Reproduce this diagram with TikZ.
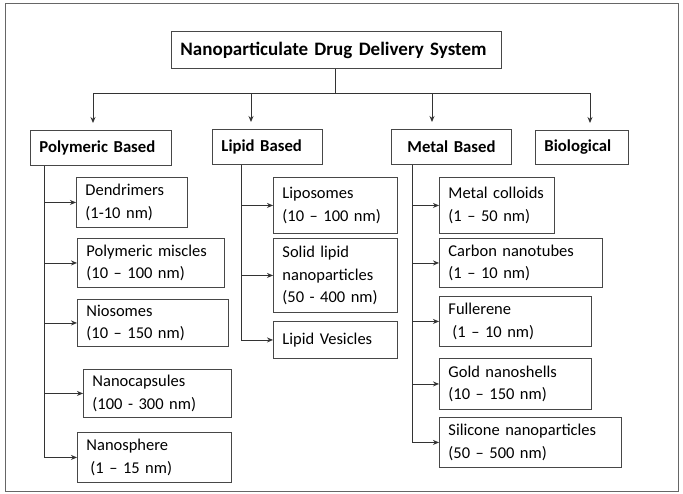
\documentclass[tikz,border=0pt]{standalone}
\usepackage{fontspec}
\setmainfont{Carlito}
\usetikzlibrary{arrows.meta}
\tikzset{
  box/.style={draw=black!72, line width=0.9pt, inner xsep=9pt, inner ysep=2pt, align=left,
    font=\fontsize{16.5}{22.5}\selectfont, text=black},
  head/.style={font=\bfseries\fontsize{16.7}{22}\selectfont},
  link/.style={draw=black!80, line width=0.9pt},
  arr/.style={link, -{Stealth[length=6pt,width=5pt]}},
  frame/.style={draw=black!60, line width=1pt}
}
\newcommand{\bx}[7][]{%
  \node[box, #1, anchor=north west, minimum width={(#5-#3)*1pt}, minimum height={(#6-#4)*1pt},
    text width={(#5-#3)*1pt-18pt}] (#2) at (#3,#4) {#7};}
\begin{document}
\begin{tikzpicture}[x=1pt,y=-1pt]
\useasboundingbox[fill=white] (0,0) rectangle (683,493);
\draw[frame] (5,3) rectangle (678,491);
% top
\bx[font=\bfseries\fontsize{19}{22}\selectfont]{title}{171}{31}{501}{68}{Nanoparticulate Drug Delivery System}
\bx[head]{poly}{30}{130}{171}{165}{Polymeric Based}
\bx[head]{lipid}{212}{129}{322}{164}{Lipid Based}
\bx[head]{metal}{391}{129}{511}{164}{\hspace*{7pt}Metal Based}
\bx[head]{bio}{535}{130}{628}{164}{Biological}
% polymeric children
\bx{dend}{76}{177}{187}{227}{Dendrimers\\(1-10 nm)}
\bx{pmic}{77}{238}{224}{287}{Polymeric miscles\\(10 – 100 nm)}
\bx{nios}{77}{299}{228}{346}{Niosomes\\(10 – 150 nm)}
\bx{ncap}{83}{369}{231}{417}{Nanocapsules\\(100 - 300 nm)}
\bx{nsph}{77}{432}{231}{482}{Nanosphere\\\hspace*{4pt}(1 – 15 nm)}
% lipid children
\bx{lipo}{273}{177}{397}{233}{Liposomes\\(10 – 100 nm)}
\bx{sln}{273}{238}{397}{312}{Solid lipid\\nanoparticles\\(50 - 400 nm)}
\bx{lves}{273}{321}{397}{358}{Lipid Vesicles}
% metal children
\bx{mcol}{439}{177}{554}{233}{Metal colloids\\(1 – 50 nm)}
\bx{cnt}{439}{238}{602}{287}{Carbon nanotubes\\(1 – 10 nm)}
\bx{full}{439}{296}{591}{346}{Fullerene\\\hspace*{4pt}(1 – 10 nm)}
\bx{gold}{439}{358}{591}{409}{Gold nanoshells\\(10 – 150 nm)}
\bx{sil}{439}{417}{621}{467}{Silicone nanoparticles\\(50 – 500 nm)}
% bus
\coordinate (bj) at (335,93);
\coordinate (b1) at (93,93);
\coordinate (b2) at (251,93);
\coordinate (b3) at (432,93);
\coordinate (b4) at (590,93);
\draw[link] (title.south -| bj) -- (bj);
\draw[link] (b1) -- (b4);
\draw[arr, shorten >=7pt] (b1) -- (b1 |- poly.north);
\draw[arr, shorten >=7pt] (b2) -- (b2 |- lipid.north);
\draw[arr, shorten >=7pt] (b3) -- (b3 |- metal.north);
\draw[arr, shorten >=7pt] (b4) -- (b4 |- bio.north);
% polymeric branch
\coordinate (pv) at (44,165);
\draw[link] (pv |- poly.south) -- (pv |- nsph.west);
\foreach \n in {dend,pmic,nios,ncap,nsph} \draw[arr] (pv |- \n.west) -- (\n.west);
% lipid branch
\coordinate (lv) at (241,164);
\draw[link] (lv |- lipid.south) -- (lv |- lves.west);
\foreach \n in {lipo,sln,lves} \draw[arr] (lv |- \n.west) -- (\n.west);
% metal branch
\coordinate (mv) at (412,164);
\draw[link] (mv |- metal.south) -- (mv |- sil.west);
\foreach \n in {mcol,cnt,full,gold,sil} \draw[arr] (mv |- \n.west) -- (\n.west);
\end{tikzpicture}
\end{document}
